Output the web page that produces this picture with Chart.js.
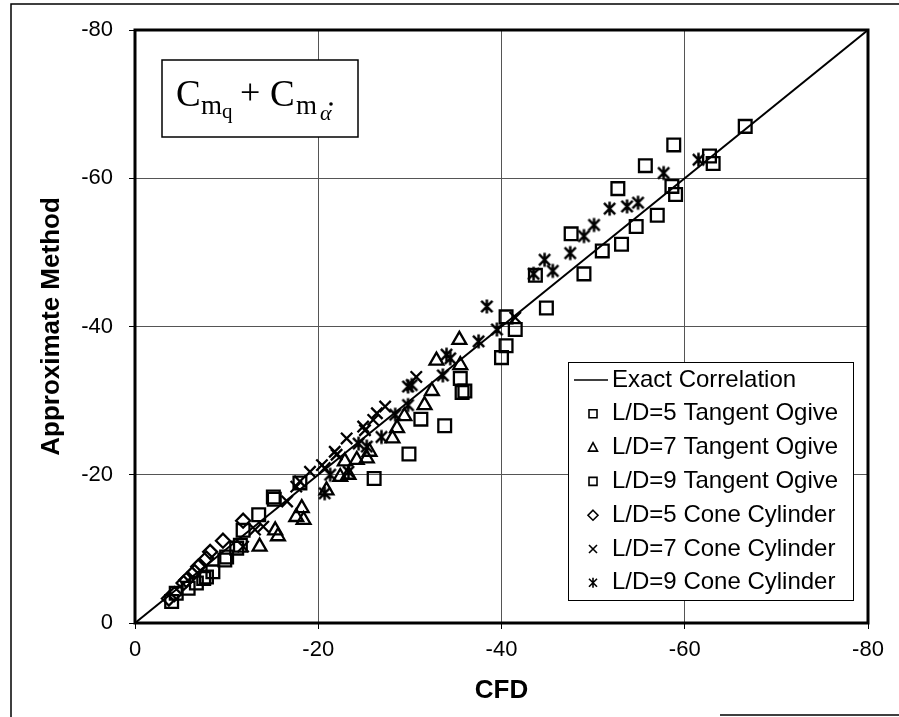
<!DOCTYPE html>
<html>
<head>
<meta charset="utf-8">
<script src="https://cdn.jsdelivr.net/npm/chart.js@4.4.1/dist/chart.umd.min.js"></script>
<style>
  html, body { margin: 0; padding: 0; background: #fff; }
  #wrap { width: 899px; height: 717px; }
</style>
</head>
<body>
<div id="wrap"><canvas id="chart" width="899" height="717"></canvas></div>
<script>
// values (CFD, approximate method)
const ogive5 = [[-4.0,-2.9],[-4.5,-4.0],[-5.8,-4.7],[-6.7,-5.4],[-7.5,-6.0],[-7.8,-6.2],[-8.5,-6.9],[-9.8,-8.5],[-10.0,-8.9],
  [-11.1,-10.1],[-11.5,-10.5],[-11.8,-12.5],[-13.5,-14.6],[-15.2,-16.7],[-15.1,-17.0],[-18.0,-18.9],[-26.1,-19.5],[-29.9,-22.8]];
const ogive7 = [[-13.6,-10.3],[-15.3,-12.5],[-15.6,-11.7],[-17.6,-14.3],[-18.2,-15.5],[-18.4,-13.9],[-20.9,-17.9],[-22.4,-19.7],
  [-23.3,-20.0],[-22.9,-21.8],[-24.2,-22.0],[-25.3,-22.2],[-25.6,-23.1],[-28.1,-24.9],[-28.6,-26.3],[-29.4,-27.9],[-31.6,-29.4],
  [-32.4,-31.3],[-32.9,-35.4],[-35.5,-34.8],[-35.4,-38.2]];
const ogive9 = [[-31.2,-27.5],[-33.8,-26.6],[-35.5,-33.0],[-35.7,-31.1],[-36.0,-31.3],[-40.5,-41.3],[-41.5,-39.6],[-40.5,-37.4],
  [-40.0,-35.8],[-43.7,-46.9],[-44.9,-42.5],[-49.0,-47.1],[-47.6,-52.5],[-51.0,-50.2],[-53.1,-51.1],[-54.7,-53.5],[-57.0,-55.0],
  [-52.7,-58.6],[-55.7,-61.7],[-58.8,-64.5],[-58.6,-58.9],[-59.0,-57.8],[-62.7,-63.0],[-63.1,-62.0],[-66.6,-67.0]];
const cone5 = [[-3.7,-3.3],[-4.3,-3.9],[-5.3,-5.4],[-5.6,-5.8],[-6.5,-6.9],[-6.9,-7.6],[-7.8,-8.7],[-8.2,-9.6],[-9.6,-11.1],[-11.8,-13.8]];
const cone7 = [[-11.8,-10.3],[-13.1,-12.6],[-14.0,-13.0],[-16.6,-16.4],[-17.6,-18.4],[-18.0,-19.1],[-19.1,-20.4],[-20.4,-21.3],
  [-20.7,-20.9],[-21.8,-23.1],[-22.0,-22.7],[-23.1,-24.9],[-24.9,-26.5],[-25.1,-26.0],[-26.0,-27.4],[-26.4,-28.3],[-27.3,-29.2],
  [-30.7,-33.2],[-41.5,-41.2]];
const cone9 = [[-20.7,-17.5],[-21.3,-20.0],[-23.3,-20.4],[-24.4,-24.2],[-25.3,-23.8],[-26.9,-25.1],[-28.4,-28.1],[-29.8,-29.4],
  [-29.8,-31.9],[-30.2,-32.1],[-33.6,-33.4],[-34.0,-36.2],[-34.4,-35.7],[-37.5,-38.0],[-38.4,-42.7],[-39.5,-39.6],[-43.5,-47.1],
  [-44.7,-49.0],[-45.6,-47.5],[-47.5,-49.9],[-49.0,-52.2],[-50.1,-53.7],[-51.8,-55.9],[-53.7,-56.2],[-54.9,-56.7],[-57.7,-60.7],
  [-61.5,-62.5]];
const exactLine = [[0, 0], [-80, -80]];
const axisMin = -80, axisMax = 0, axisStep = 20;

const pts = (arr) => arr.map(([x, y]) => ({ x, y }));

// asterisk marker: an x with a vertical stroke
function asterisk(size, lw) {
  const c = document.createElement("canvas");
  c.width = size; c.height = size;
  const g = c.getContext("2d");
  g.strokeStyle = "#000"; g.lineWidth = lw;
  const m = size / 2, r = size / 2 - 1.5;
  g.beginPath();
  g.moveTo(m - r * 0.8, m - r * 0.8); g.lineTo(m + r * 0.8, m + r * 0.8);
  g.moveTo(m + r * 0.8, m - r * 0.8); g.lineTo(m - r * 0.8, m + r * 0.8);
  g.moveTo(m, m - r); g.lineTo(m, m + r);
  g.stroke();
  return c;
}

const scatter = (label, data, style, radius) => ({
  type: "scatter", label, data: pts(data), pointStyle: style, pointRadius: radius, pointHoverRadius: radius,
  borderColor: "#000", backgroundColor: "rgba(0,0,0,0)", pointBorderWidth: 2.3, borderWidth: 2.3,
});

const datasets = [
  { type: "line", label: "Exact Correlation", data: pts(exactLine), borderColor: "#000", borderWidth: 2, pointRadius: 0, fill: false },
  scatter("L/D=5 Tangent Ogive", ogive5, "rect", 9),
  scatter("L/D=7 Tangent Ogive", ogive7, "triangle", 8),
  scatter("L/D=9 Tangent Ogive", ogive9, "rect", 9),
  scatter("L/D=5 Cone Cylinder", cone5, "rectRot", 7),
  scatter("L/D=7 Cone Cylinder", cone7, "crossRot", 8),
  scatter("L/D=9 Cone Cylinder", cone9, asterisk(17, 2.5), 8),
];

// whole-figure frame and the plot border
const framePlugin = {
  id: "frame",
  beforeDraw(chart) {
    const { ctx } = chart;
    ctx.save();
    ctx.fillStyle = "#fff";
    ctx.fillRect(0, 0, chart.width, chart.height);
    ctx.strokeStyle = "#000"; ctx.lineWidth = 1.5;
    ctx.beginPath();
    ctx.moveTo(11, 717); ctx.lineTo(11, 4); ctx.lineTo(899, 4);
    ctx.moveTo(720, 715); ctx.lineTo(899, 715);
    ctx.stroke();
    ctx.restore();
  },
  afterDatasetsDraw(chart) {
    const { ctx, chartArea: a } = chart;
    ctx.save();
    ctx.strokeStyle = "#000"; ctx.lineWidth = 3;
    ctx.strokeRect(a.left, a.top, a.right - a.left, a.bottom - a.top);
    ctx.restore();
  },
};

// legend box inside the plot, lower right
const legendPlugin = {
  id: "boxLegend",
  afterDraw(chart) {
    const { ctx } = chart;
    const x0 = 568, y0 = 362, w = 285, h = 238, rowH = 33.8, firstY = 380;
    ctx.save();
    ctx.fillStyle = "#fff"; ctx.fillRect(x0, y0, w, h);
    ctx.strokeStyle = "#000"; ctx.lineWidth = 1; ctx.strokeRect(x0 + 0.5, y0 + 0.5, w, h);
    ctx.font = "24px 'Liberation Sans', Arial, sans-serif";
    ctx.fillStyle = "#000"; ctx.textBaseline = "middle"; ctx.textAlign = "left";
    chart.data.datasets.forEach((ds, i) => {
      const y = firstY + i * rowH, mx = 593;
      ctx.lineWidth = 1.6; ctx.strokeStyle = "#000";
      ctx.beginPath();
      if (i === 0) {
        ctx.moveTo(574, y); ctx.lineTo(608, y);
      } else if (ds.pointStyle === "rect") {
        ctx.rect(mx - 4, y - 4, 8, 8);
      } else if (ds.pointStyle === "triangle") {
        ctx.moveTo(mx, y - 5); ctx.lineTo(mx + 4.5, y + 3.5); ctx.lineTo(mx - 4.5, y + 3.5); ctx.closePath();
      } else if (ds.pointStyle === "rectRot") {
        ctx.moveTo(mx, y - 5); ctx.lineTo(mx + 5, y); ctx.lineTo(mx, y + 5); ctx.lineTo(mx - 5, y); ctx.closePath();
      } else if (ds.pointStyle === "crossRot") {
        ctx.moveTo(mx - 4, y - 4); ctx.lineTo(mx + 4, y + 4); ctx.moveTo(mx + 4, y - 4); ctx.lineTo(mx - 4, y + 4);
      } else {
        ctx.moveTo(mx - 4, y - 4); ctx.lineTo(mx + 4, y + 4); ctx.moveTo(mx + 4, y - 4); ctx.lineTo(mx - 4, y + 4);
        ctx.moveTo(mx, y - 5); ctx.lineTo(mx, y + 5);
      }
      ctx.stroke();
      ctx.fillText(ds.label, 612, y);
    });
    ctx.restore();
  },
};

// boxed formula label, upper left
const formulaPlugin = {
  id: "formula",
  afterDraw(chart) {
    const { ctx } = chart;
    ctx.save();
    ctx.fillStyle = "#fff"; ctx.fillRect(162, 60, 196, 77);
    ctx.strokeStyle = "#000"; ctx.lineWidth = 1.5; ctx.strokeRect(162, 60, 196, 77);
    ctx.fillStyle = "#000"; ctx.textBaseline = "alphabetic"; ctx.textAlign = "left";
    const serif = "'Liberation Serif', 'Times New Roman', serif";
    ctx.font = `37px ${serif}`;
    ctx.fillText("C", 176, 106);
    ctx.font = `27px ${serif}`;
    ctx.fillText("m", 201, 114);
    ctx.font = `21px ${serif}`;
    ctx.fillText("q", 222, 118);
    ctx.font = `36px ${serif}`;
    ctx.fillText("+", 240, 104);
    ctx.font = `37px ${serif}`;
    ctx.fillText("C", 270, 106);
    ctx.font = `27px ${serif}`;
    ctx.fillText("m", 296, 114);
    ctx.font = `italic 22px ${serif}`;
    ctx.fillText("\u03B1", 320, 120);
    ctx.beginPath(); ctx.arc(331, 104, 1.8, 0, Math.PI * 2); ctx.fill();
    ctx.restore();
  },
};

const tickFont = { family: "'Liberation Sans', Arial, sans-serif", size: 22 };
const titleFont = { family: "'Liberation Sans', Arial, sans-serif", size: 26, weight: "bold" };
const grid = { color: "#555", lineWidth: 1, tickLength: 6, tickColor: "#000" };

new Chart(document.getElementById("chart"), {
  data: { datasets },
  plugins: [framePlugin, legendPlugin, formulaPlugin],
  options: {
    responsive: false,
    animation: false,
    layout: { padding: { left: 0, top: 30, right: 31, bottom: 0 } },
    plugins: { legend: { display: false }, tooltip: { enabled: false } },
    scales: {
      x: {
        type: "linear", reverse: true, min: axisMin, max: axisMax,
        ticks: { stepSize: axisStep, color: "#000", font: tickFont, padding: 8, maxRotation: 0 },
        grid, border: { display: false },
        title: { display: true, text: "CFD", color: "#000", font: titleFont, padding: { top: 0, bottom: 11 } },
        afterFit(s) { s.height = 94; },
      },
      y: {
        type: "linear", reverse: true, min: axisMin, max: axisMax,
        ticks: { stepSize: axisStep, color: "#000", font: tickFont, padding: 16 },
        grid, border: { display: false },
        title: { display: true, text: "Approximate Method", color: "#000", font: titleFont, padding: { top: 36, bottom: 0 } },
        afterFit(s) { s.width = 135; },
      },
    },
  },
});
</script>
</body>
</html>
